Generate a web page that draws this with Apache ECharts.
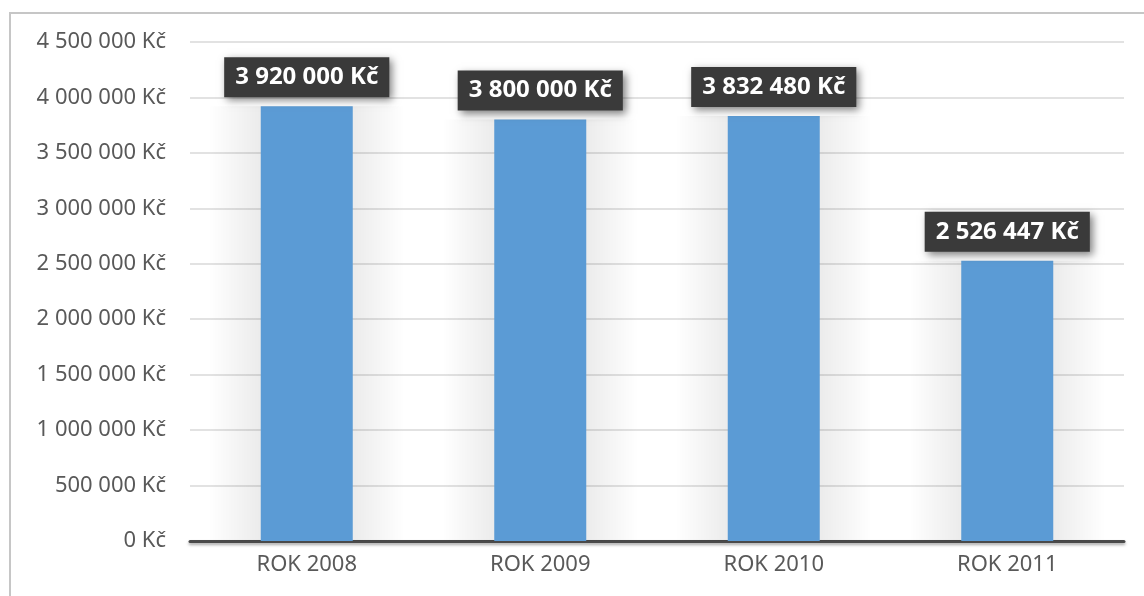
<!DOCTYPE html>
<html>
<head>
<meta charset="utf-8">
<script src="https://cdn.jsdelivr.net/npm/echarts@6/dist/echarts.min.js"></script>
<style>
  html, body { margin: 0; padding: 0; background: #fff; }
  #graf { width: 1144px; height: 596px; }
</style>
</head>
<body>
<div id="graf"></div>
<script>
// data
var roky = ['ROK 2008', 'ROK 2009', 'ROK 2010', 'ROK 2011'];
var castky = [3920000, 3800000, 3832480, 2526447];
var osaMax = 4500000;
var osaKrok = 500000;

function kc(v) {
    return String(v).replace(/\B(?=(\d{3})+(?!\d))/g, ' ') + ' Kč';
}

var chart = echarts.init(document.getElementById('graf'));

// měkký stín vedle sloupců
var stin = new echarts.graphic.LinearGradient(0, 0, 1, 0, [
    { offset: 0, color: 'rgba(0,0,0,0)' },
    { offset: 0.27, color: 'rgba(0,0,0,0.08)' },
    { offset: 0.73, color: 'rgba(0,0,0,0.08)' },
    { offset: 1, color: 'rgba(0,0,0,0)' }
]);

var option = {
    animation: false,
    textStyle: { fontFamily: 'Noto Sans' },
    graphic: [
        {
            type: 'rect',
            silent: true,
            shape: { x: 10, y: 13, width: 1300, height: 800 },
            style: { fill: 'none', stroke: '#c6c6c6', lineWidth: 2 }
        }
    ],
    grid: { left: 190, right: 20, top: 42, bottom: 55 },
    xAxis: [
        {
            type: 'category',
            data: roky,
            axisTick: { show: false },
            axisLine: {
                lineStyle: {
                    color: '#4a4a4a', width: 3,
                    shadowColor: 'rgba(0,0,0,0.35)', shadowBlur: 3, shadowOffsetY: 2
                }
            },
            axisLabel: { color: '#595959', fontSize: 22, margin: 13 }
        },
        {
            type: 'category',
            data: roky,
            show: false
        }
    ],
    yAxis: {
        type: 'value',
        min: 0,
        max: osaMax,
        interval: osaKrok,
        axisLine: { show: false },
        axisTick: { show: false },
        axisLabel: { color: '#595959', fontSize: 22, margin: 24, formatter: kc },
        splitLine: { lineStyle: { color: '#d9d9d9', width: 1.5 } }
    },
    series: [
        {
            type: 'bar',
            xAxisIndex: 1,
            data: castky,
            barWidth: 196,
            silent: true,
            z: 1,
            itemStyle: { color: stin }
        },
        {
            type: 'bar',
            data: castky,
            barWidth: 92,
            z: 3,
            itemStyle: { color: '#5b9bd5' },
            label: {
                show: true,
                position: 'top',
                distance: 9,
                formatter: function (p) { return kc(p.value); },
                color: '#ffffff',
                fontWeight: 'bold',
                fontSize: 24,
                lineHeight: 28,
                backgroundColor: '#3a3a3a',
                padding: [6, 11],
                shadowColor: 'rgba(0,0,0,0.5)',
                shadowBlur: 8,
                shadowOffsetX: 3,
                shadowOffsetY: 3
            }
        }
    ]
};

chart.setOption(option);

window.addEventListener('resize', function () {
    chart.resize();
});
</script>
</body>
</html>
